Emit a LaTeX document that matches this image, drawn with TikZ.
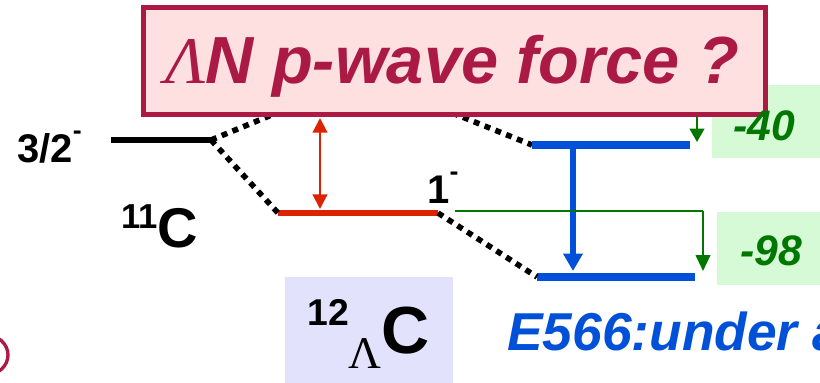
\documentclass[tikz,border=0pt]{standalone}
\usepackage{fontspec}
\setmainfont{Liberation Sans}
\newfontfamily\serifL{Liberation Serif}
\usetikzlibrary{arrows.meta}
\definecolor{maroon}{HTML}{AA1A45}
\definecolor{pinkfill}{HTML}{FFE0E0}
\definecolor{lvred}{HTML}{DD2200}
\definecolor{lvblue}{HTML}{0050D8}
\definecolor{lvgreen}{HTML}{007700}
\definecolor{greenfill}{HTML}{D5FAD5}
\definecolor{lavfill}{HTML}{E2E2FC}
\tikzset{
  level/.style={line width=5pt},
  dotline/.style={line width=4.2pt, dash pattern=on 4.5pt off 4.2pt, black},
  lbl/.style={anchor=base west, inner sep=0pt, font=\bfseries},
  valtxt/.style={anchor=base west, inner sep=0pt, text=lvgreen, font=\fontsize{32}{32}\selectfont\bfseries\itshape},
}
\begin{document}
\begin{tikzpicture}[x=0.75pt,y=-0.75pt]
\useasboundingbox (0,0) rectangle (820,382);
\clip (0,0) rectangle (820,382);

% level end points
\coordinate (a1) at (111,140); \coordinate (a2) at (211,140);
\coordinate (h1) at (308,100); \coordinate (h2) at (420,100);
\coordinate (r1) at (278,213); \coordinate (r2) at (438,213);
\coordinate (bu1) at (532,145); \coordinate (bu2) at (690,145);
\coordinate (bl1) at (537,277); \coordinate (bl2) at (695,277);

% background boxes
\fill[greenfill] (712,85) rectangle (830,158);
\fill[greenfill] (717,212) rectangle (830,285);
\fill[lavfill] (285,277) rectangle (453,390);

% hidden parts behind the title box
\draw[dotline] (a2) -- (h1);
\draw[dotline] (h2) -- (bu1);
\draw[lvgreen, line width=1.5pt, -{Triangle[length=10pt,width=11pt]}] (697,100) -- (697,142);

% levels
\draw[level, black] (a1) -- (a2);
\draw[level, lvred] (r1) -- (r2);
\draw[level, lvblue, line width=5.5pt] (bu1) -- (bu2);
\draw[level, lvblue, line width=6pt] (bl1) -- (bl2);
\draw[dotline] (a2) -- (r1);
\draw[dotline] (r2) -- (bl1);

% arrows
\coordinate (bv) at (573,145);
\coordinate (bvt) at (573,271);
\draw[lvblue, line width=3.8pt, -{Triangle[length=13pt,width=14pt]}] (bv) -- (bvt);
\coordinate (gs) at (455,211);
\coordinate (ge) at (703,211);
\coordinate (gt) at (703,271);
\draw[lvgreen, line width=1.5pt] (gs) -- (ge);
\draw[lvgreen, line width=1.5pt, -{Triangle[length=12pt,width=11pt]}] (ge) -- (gt);

% title box
\node[draw=maroon, fill=pinkfill, line width=3.75pt, minimum width=466.5pt, minimum height=80.25pt, inner sep=0pt] (box) at (454.5,61) {};
\node[anchor=base west, inner sep=0pt, text=maroon, font=\fontsize{50}{50}\selectfont\bfseries\itshape] (title) at (165,83) {{\serifL\mdseries\itshape Λ}N p-wave force ?};

\coordinate (rtop) at (320,118);
\coordinate (rbot) at (320,209);
\draw[lvred, line width=1.6pt, {Triangle[length=11pt,width=11pt]}-{Triangle[length=11pt,width=11pt]}] (rtop) -- (rbot);

% labels
\node[lbl, font=\fontsize{30}{30}\selectfont\bfseries] (l32) at (17,162) {3/2\raisebox{17pt}{\fontsize{20}{20}\selectfont -}};
\node[lbl, font=\fontsize{30}{30}\selectfont\bfseries] (l1) at (427,203) {1\raisebox{17pt}{\fontsize{20}{20}\selectfont -}};
\node[lbl] (c11) at (121,247) {\raisebox{14pt}{\fontsize{26}{26}\selectfont 11}\fontsize{42}{42}\selectfont C};
\node[lbl] (c12) at (307,353) {\raisebox{21pt}{\fontsize{28}{28}\selectfont 12}{\fontsize{34}{34}\selectfont\serifL\mdseries\raisebox{-11.5pt}{Λ}}\fontsize{50}{50}\selectfont C};
\node[valtxt] (v40) at (733,140) {-40};
\node[valtxt] (v98) at (740,265) {-98};
\node[anchor=base west, inner sep=0pt, text=lvblue, font=\fontsize{40}{40}\selectfont\bfseries\itshape] (e566) at (507,350) {E566:under analysis};

% partial circle at lower left
\draw[maroon, line width=2.5pt] (-14,355) ellipse (22 and 20);
\end{tikzpicture}
\end{document}
